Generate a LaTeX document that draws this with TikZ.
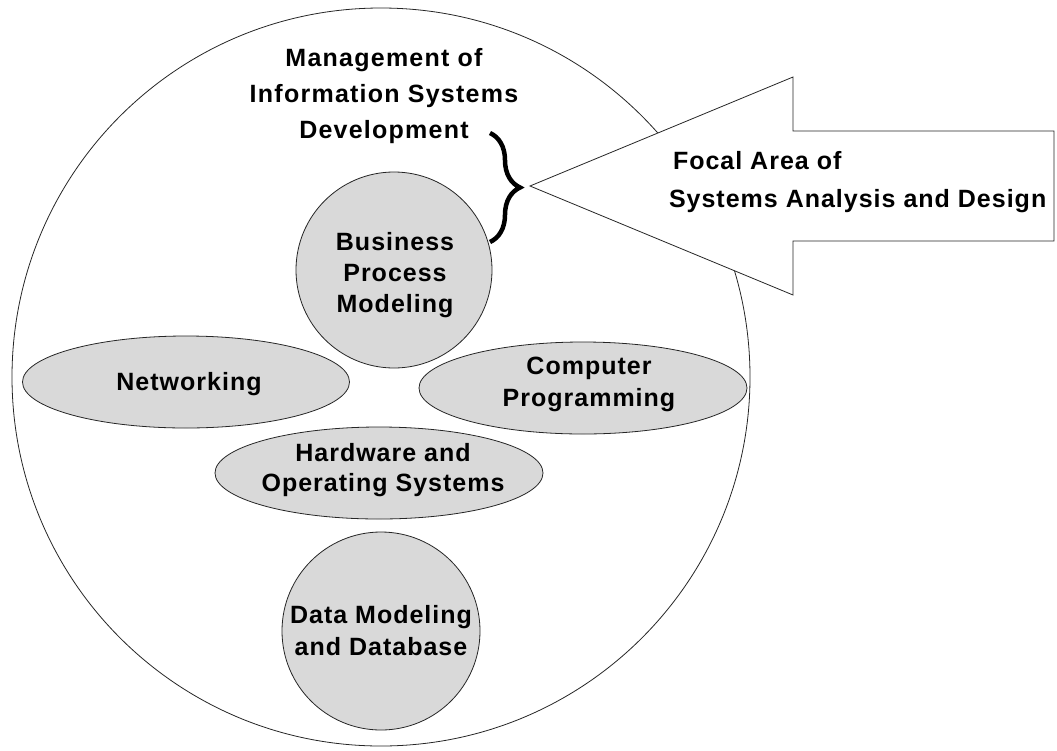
\documentclass[tikz,border=0pt]{standalone}
\usepackage{fontspec}
\setmainfont{Liberation Sans}
\newfontfamily\lblfont[LetterSpace=4]{Liberation Sans}
\newfontfamily\mgmtfont[LetterSpace=5]{Liberation Sans}
\usetikzlibrary{shapes.geometric,decorations.pathreplacing}
\tikzset{
  shapeline/.style={draw=black!85, line width=0.8pt},
  blob/.style={shapeline, fill=black!15, inner sep=0pt},
  lbl/.style={inner sep=0pt, outer sep=0pt, anchor=north, align=center, text=black},
  fs/.style={font={\lblfont\bfseries\fontsize{25}{#1}\selectfont}},
  bracestyle/.style={draw=black, line width=4.5pt, decorate, decoration={brace, amplitude=30pt}},
}
\begin{document}
\begin{tikzpicture}[x=1pt,y=-1pt]
\useasboundingbox (0,0) rectangle (1057,750);
% outer circle
\node[circle, shapeline, fill=white, minimum size=738pt, inner sep=0pt] (outer) at (381,377) {};
% big arrow
\coordinate (tip) at (530,186);
\coordinate (ht) at (793,77);
\coordinate (st) at (793,131);
\coordinate (rt) at (1054,131);
\coordinate (rb) at (1054,241);
\coordinate (sb) at (793,241);
\coordinate (hb) at (793,295);
\draw[shapeline, fill=white] (tip) -- (ht) -- (st) -- (rt) -- (rb) -- (sb) -- (hb) -- cycle;
\node[lbl, fs=38, anchor=north west, align=left] (focal) at (669,151)
  {\hspace*{4pt}Focal Area of\\Systems Analysis and Design};
% management label
\node[lbl, font={\mgmtfont\bfseries\fontsize{25}{36}\selectfont}] (mgmt) at (384,48)
  {Management of\\Information Systems\\Development};
% brace
\coordinate (brtop) at (490,133);
\coordinate (brbot) at (490,242);
\draw[bracestyle] (brtop) -- (brbot);
% inner shapes
\node[blob, circle, minimum size=196pt] (bpm) at (394,270) {};
\node[lbl, fs=31] (bpmT) at (395,232) {Business\\Process\\Modeling};
\node[blob, ellipse, minimum width=327pt, minimum height=92pt] (net) at (186,382) {};
\node[lbl, fs=30, anchor=base] (netT) at (189,390) {Networking};
\node[blob, ellipse, minimum width=328pt, minimum height=92pt] (cp) at (583,388) {};
\node[lbl, fs=32] (cpT) at (589,357) {Computer\\Programming};
\node[blob, ellipse, minimum width=328pt, minimum height=92pt] (hw) at (379,473) {};
\node[lbl, fs=30] (hwT) at (383,443) {Hardware and\\Operating Systems};
\node[blob, circle, minimum size=198pt] (dm) at (381,631) {};
\node[lbl, fs=32] (dmT) at (381,605) {Data Modeling\\and Database};
\end{tikzpicture}
\end{document}
